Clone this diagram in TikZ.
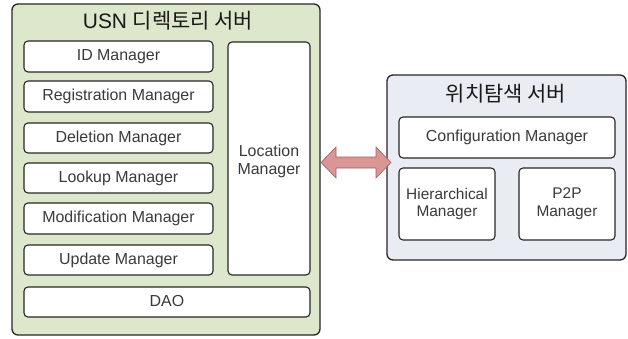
\documentclass[tikz,border=0pt]{standalone}
\usepackage{fontspec}
\setmainfont{Liberation Sans}
\newfontfamily\kr{Noto Sans CJK KR}
\definecolor{dirfill}{HTML}{DDE7CB}
\definecolor{locfill}{HTML}{E9EDF3}
\definecolor{arrfill}{HTML}{D99694}
\definecolor{arrline}{HTML}{A4605C}
\definecolor{txt}{HTML}{3A3A3A}
\tikzset{
  server/.style={draw=black!85, line width=1.3pt, rounded corners=6bp},
  module/.style={draw=black!85, line width=1.1pt, rounded corners=4bp, fill=white},
  lbl/.style={font=\fontsize{16}{18}\selectfont, text=txt, align=center},
  ttl/.style={font=\fontsize{21}{24}\selectfont, text=black!90},
}
\begin{document}
\begin{tikzpicture}[x=1bp,y=-1bp]
\useasboundingbox (0,0) rectangle (628,338);

% directory server
\draw[server, fill=dirfill] (12,4) rectangle (320,335);
\node[ttl] (dirtitle) at (168,21) {USN {\kr 디렉토리 서버}};

\draw[module] (24,41) rectangle (213,72);
\node[lbl] (idm) at (118.5,56.5) {ID Manager};
\draw[module] (24,81) rectangle (213,112);
\node[lbl] (reg) at (118.5,96.5) {Registration Manager};
\draw[module] (24,123) rectangle (213,153);
\node[lbl] (del) at (118.5,138) {Deletion Manager};
\draw[module] (24,163) rectangle (213,193);
\node[lbl] (look) at (118.5,178) {Lookup Manager};
\draw[module] (24,203) rectangle (213,234);
\node[lbl] (mod) at (118.5,218.5) {Modification Manager};
\draw[module] (24,245) rectangle (213,275);
\node[lbl] (upd) at (118.5,260) {Update Manager};
\draw[module] (24,287) rectangle (310,317);
\node[lbl] (dao) at (167,301) {DAO};
\draw[module] (228,42) rectangle (310,275);
\node[lbl] (locm) at (269,161) {Location\\Manager};

% location search server
\draw[server, fill=locfill] (387,75) rectangle (626,260);
\node[ttl, font=\kr\fontsize{21}{24}\selectfont] (loctitle) at (506,94) {위치탐색 서버};
\draw[module] (399,117) rectangle (615,158);
\node[lbl] (conf) at (507,137.5) {Configuration Manager};
\draw[module] (399,168) rectangle (495,240);
\node[lbl, font=\fontsize{15.5}{18}\selectfont] (hier) at (447,204) {Hierarchical\\Manager};
\draw[module] (519,168) rectangle (615,240);
\node[lbl, font=\fontsize{15.5}{18}\selectfont] (p2p) at (567,204) {P2P\\Manager};

% two-way link between the servers
\coordinate (la) at (321,162.5);
\coordinate (ra) at (391,162.5);
\draw[fill=arrfill, draw=arrline, line width=0.6pt, line join=miter]
  (la) -- ++(15,-15.5) -- ++(0,10) -- ++(40,0) -- ++(0,-10)
  -- (ra) -- ++(-15,15.5) -- ++(0,-10) -- ++(-40,0) -- ++(0,10) -- cycle;
\end{tikzpicture}
\end{document}
